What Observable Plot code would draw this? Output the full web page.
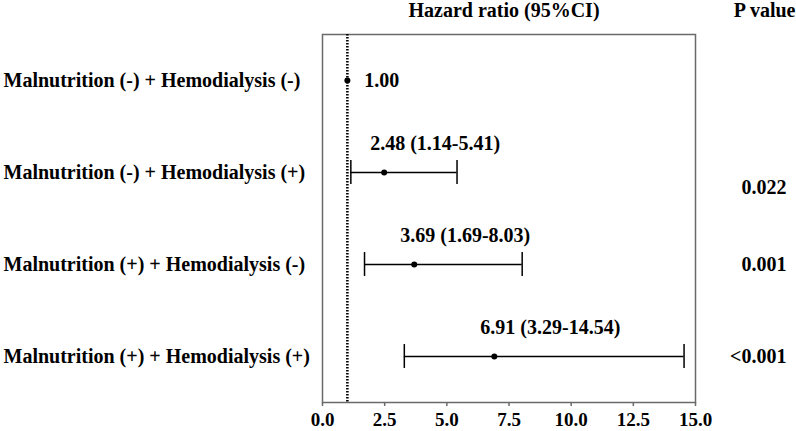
<!DOCTYPE html>
<html>
<head>
<meta charset="utf-8">
<script src="https://cdn.jsdelivr.net/npm/d3@7"></script>
<script src="https://cdn.jsdelivr.net/npm/@observablehq/plot@0.6"></script>
<style>
  html, body { margin: 0; padding: 0; background: #fff; }
  #chart svg { display: block; }
</style>
</head>
<body>
<div id="chart"></div>
<script>
const groups = [
  "Malnutrition (-) + Hemodialysis (-)",
  "Malnutrition (-) + Hemodialysis (+)",
  "Malnutrition (+) + Hemodialysis (-)",
  "Malnutrition (+) + Hemodialysis (+)"
];
const hr = [1.00, 2.48, 3.69, 6.91];
const lower = [null, 1.14, 1.69, 3.29];
const upper = [null, 5.41, 8.03, 14.54];
const hrLabels = ["1.00", "2.48 (1.14-5.41)", "3.69 (1.69-8.03)", "6.91 (3.29-14.54)"];
const pValues = ["", "0.022", "0.001", "<0.001"];
const xTicks = [0, 2.5, 5, 7.5, 10, 12.5, 15];

const rows = groups.map((g, i) => ({
  i, group: g, hr: hr[i], lo: lower[i], hi: upper[i], label: hrLabels[i], p: pValues[i]
}));
const ci = rows.filter(d => d.lo != null);
const capH = 0.13;

const font = "'Liberation Serif', 'Times New Roman', serif";

const chart = Plot.plot({
  width: 796,
  height: 431,
  marginLeft: 322,
  marginRight: 101,
  marginTop: 34,
  marginBottom: 29,
  style: { fontFamily: font, fontWeight: "bold", fontSize: "20px", color: "#000", background: "#fff" },
  x: { domain: [0, 15], ticks: xTicks, tickFormat: d => d.toFixed(1) },
  y: { domain: [3.5, -0.5], axis: null },
  marks: [
    Plot.frame({ stroke: "#6a6a6a", strokeWidth: 1.5 }),
    Plot.axisX({ ticks: xTicks, tickFormat: d => d.toFixed(1), tickSize: 4, tickPadding: 6, stroke: "#6a6a6a", strokeWidth: 1.5, fill: "#000", fontSize: 19, fontWeight: "bold", label: null }),
    Plot.ruleX([1], { stroke: "#000", strokeWidth: 2.6, strokeDasharray: "1.5,1.5" }),
    Plot.ruleY(ci, { y: "i", x1: "lo", x2: "hi", stroke: "#000", strokeWidth: 1.5 }),
    Plot.ruleX(ci, { x: "lo", y1: d => d.i - capH, y2: d => d.i + capH, stroke: "#000", strokeWidth: 1.5 }),
    Plot.ruleX(ci, { x: "hi", y1: d => d.i - capH, y2: d => d.i + capH, stroke: "#000", strokeWidth: 1.5 }),
    Plot.dot(rows, { x: "hr", y: "i", r: 3, fill: "#000" }),
    Plot.text(ci, { x: "hr", y: "i", text: "label", textAnchor: "start", dx: -14, dy: -29, fill: "#000" }),
    Plot.text(rows.filter(d => d.lo == null), { x: "hr", y: "i", text: "label", textAnchor: "start", dx: 17, fill: "#000" }),
    Plot.text(rows, { y: "i", text: "group", frameAnchor: "left", textAnchor: "start", dx: -319, fill: "#000" }),
    Plot.text(rows.filter(d => d.p === "0.022"), { y: "i", text: "p", frameAnchor: "right", textAnchor: "end", dx: 91, dy: 15, fill: "#000" }),
    Plot.text(rows.filter(d => d.p !== "0.022" && d.p !== ""), { y: "i", text: "p", frameAnchor: "right", textAnchor: "end", dx: 91, fill: "#000" }),
    Plot.text(["Hazard ratio (95%CI)"], { text: d => d, frameAnchor: "top", lineAnchor: "middle", dx: -5, dy: -24, fill: "#000" }),
    Plot.text(["P value"], { text: d => d, frameAnchor: "top-right", lineAnchor: "middle", textAnchor: "end", dx: 100, dy: -24, fill: "#000" })
  ]
});
document.getElementById("chart").appendChild(chart);
</script>
</body>
</html>
